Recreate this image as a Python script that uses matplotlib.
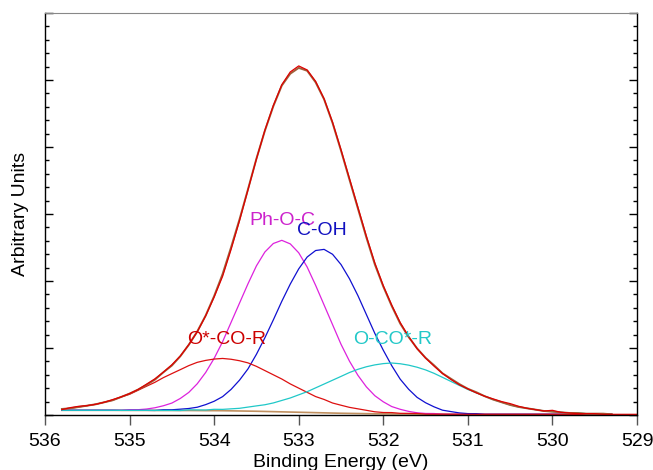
import numpy as np
import matplotlib
matplotlib.use("Agg")
import matplotlib.pyplot as plt
from matplotlib.ticker import MultipleLocator

plt.rcParams['font.family'] = ['Liberation Sans', 'DejaVu Sans']

# Binding energy grids (eV), high to low as in the XPS scan
energy = np.round(np.arange(535.8, 529.25, -0.1), 1)           # fit grid, 66 pts
measured_energy = np.round(np.arange(535.8, 528.95, -0.1), 1)  # raw scan, 69 pts

# Shirley-type background under the O 1s peak
background = [0.070, 0.070, 0.070, 0.070, 0.070, 0.070, 0.070, 0.069, 0.069, 0.069,
              0.069, 0.068, 0.068, 0.068, 0.067, 0.067, 0.066, 0.065, 0.065, 0.064,
              0.062, 0.060, 0.058, 0.056, 0.053, 0.050, 0.047, 0.044, 0.041, 0.038,
              0.035, 0.032, 0.029, 0.026, 0.024, 0.022, 0.020, 0.018, 0.017, 0.016,
              0.015, 0.014, 0.013, 0.013, 0.012, 0.012, 0.011, 0.011, 0.011, 0.010,
              0.010, 0.010, 0.010, 0.010, 0.010, 0.010, 0.010, 0.010, 0.010, 0.010,
              0.010, 0.010, 0.010, 0.010, 0.010, 0.010]

# fitted components, height above background
ph_o_c = [0, 0, 0, 0, 0, 0, 0, 0, 0.01, 0.01,
          0.02, 0.04, 0.07, 0.11, 0.18, 0.27, 0.40, 0.57, 0.78, 1.03,
          1.32, 1.61, 1.90, 2.17, 2.38, 2.51, 2.56, 2.51, 2.38, 2.17,
          1.90, 1.61, 1.32, 1.03, 0.78, 0.57, 0.40, 0.27, 0.18, 0.11,
          0.07, 0.04, 0.02, 0.01, 0.01, 0, 0, 0, 0, 0,
          0, 0, 0, 0, 0, 0, 0, 0, 0, 0,
          0, 0, 0, 0, 0, 0]

c_oh = [0, 0, 0, 0, 0, 0, 0, 0, 0, 0,
        0, 0, 0.01, 0.01, 0.02, 0.03, 0.05, 0.09, 0.14, 0.21,
        0.32, 0.46, 0.63, 0.85, 1.10, 1.37, 1.65, 1.91, 2.14, 2.32,
        2.42, 2.44, 2.37, 2.22, 2.01, 1.76, 1.48, 1.20, 0.95, 0.72,
        0.52, 0.37, 0.25, 0.17, 0.11, 0.06, 0.04, 0.02, 0.01, 0.01,
        0, 0, 0, 0, 0, 0, 0, 0, 0, 0,
        0, 0, 0, 0, 0, 0]

o_star_co_r = [0.02, 0.03, 0.05, 0.07, 0.09, 0.12, 0.15, 0.20, 0.24, 0.30,
               0.36, 0.42, 0.49, 0.55, 0.61, 0.67, 0.72, 0.75, 0.77, 0.78,
               0.77, 0.75, 0.72, 0.67, 0.61, 0.55, 0.49, 0.42, 0.36, 0.30,
               0.24, 0.20, 0.15, 0.12, 0.09, 0.07, 0.05, 0.03, 0.02, 0.02,
               0.01, 0.01, 0.01, 0, 0, 0, 0, 0, 0, 0,
               0, 0, 0, 0, 0, 0, 0, 0, 0, 0,
               0, 0, 0, 0, 0, 0]

o_co_star_r = [0, 0, 0, 0, 0, 0, 0, 0, 0, 0,
               0, 0, 0, 0, 0, 0.01, 0.01, 0.01, 0.02, 0.02,
               0.03, 0.04, 0.06, 0.08, 0.10, 0.13, 0.17, 0.21, 0.26, 0.31,
               0.37, 0.43, 0.49, 0.55, 0.61, 0.66, 0.70, 0.73, 0.75, 0.76,
               0.75, 0.73, 0.70, 0.66, 0.61, 0.55, 0.49, 0.43, 0.37, 0.32,
               0.27, 0.22, 0.18, 0.14, 0.11, 0.09, 0.07, 0.05, 0.04, 0.03,
               0.02, 0.02, 0.01, 0.01, 0.01, 0]

# raw spectrum
measured = [0.08, 0.11, 0.13, 0.14, 0.16, 0.19, 0.23, 0.27, 0.32, 0.38,
            0.46, 0.54, 0.64, 0.75, 0.88, 1.05, 1.24, 1.48, 1.76, 2.07,
            2.47, 2.90, 3.36, 3.82, 4.25, 4.62, 4.93, 5.12, 5.21, 5.15,
            4.98, 4.72, 4.37, 3.96, 3.53, 3.10, 2.67, 2.27, 1.93, 1.64,
            1.38, 1.17, 0.99, 0.85, 0.73, 0.62, 0.53, 0.45, 0.39, 0.33,
            0.28, 0.24, 0.20, 0.17, 0.13, 0.10, 0.08, 0.06, 0.07, 0.04,
            0.03, 0.02, 0.02, 0.02, 0.01, 0.01, 0.01, 0.01, 0.01]

labels = ['Ph-O-C', 'C-OH', 'O*-CO-R', 'O-CO*-R']
line_colors = ['#dd22dd', '#1010d0', '#dd1010', '#20c8c8']
text_colors = ['#cc22cc', '#1010c0', '#cc0000', '#22c8c8']
label_pos = [(533.58, 2.91), (533.02, 2.75), (534.32, 1.12), (532.36, 1.12)]

bg = np.array(background)
components = [np.array(c) for c in (ph_o_c, c_oh, o_star_co_r, o_co_star_r)]
envelope = bg + sum(components)

fig = plt.figure(figsize=(6.53, 4.70), dpi=100)
ax = fig.add_axes([45 / 653, 55 / 470, 592 / 653, 402 / 470])

ax.plot(energy, bg, color='#c09060', lw=1.2)
for comp, col in zip(components, line_colors):
    ax.plot(energy, bg + comp, color=col, lw=0.9)
ax.plot(energy, envelope, color='#a0603a', lw=1.4)
ax.plot(measured_energy, measured, color='#dd0000', lw=0.9)

for name, col, (x, y) in zip(labels, text_colors, label_pos):
    ax.text(x, y, name, color=col, fontsize=14, ha='left', va='center')

ax.set_xlim(536, 529)
ax.set_ylim(0, 6)
ax.set_xticks(range(529, 537))
ax.yaxis.set_major_locator(MultipleLocator(1))
ax.yaxis.set_minor_locator(MultipleLocator(0.2))
ax.tick_params(axis='y', which='both', direction='in', left=True, right=True,
               labelleft=False, color='black')
ax.tick_params(axis='y', which='major', length=6, width=1)
ax.tick_params(axis='y', which='minor', length=3, width=1)
ax.tick_params(axis='x', which='major', direction='out', length=7.5, width=1,
               color='#555555', labelsize=14, pad=5.5)

for side in ['left', 'right', 'bottom']:
    ax.spines[side].set_color('black')
    ax.spines[side].set_linewidth(1)
ax.spines['top'].set_color('#888888')

ax.set_xlabel('Binding Energy (eV)', fontsize=14)
ax.set_ylabel('Arbitrary Units', fontsize=14)
ax.xaxis.set_label_coords(0.5, -0.097)
ax.yaxis.set_label_coords(-0.027, 0.5)

fig.savefig('out.png', dpi=100)
